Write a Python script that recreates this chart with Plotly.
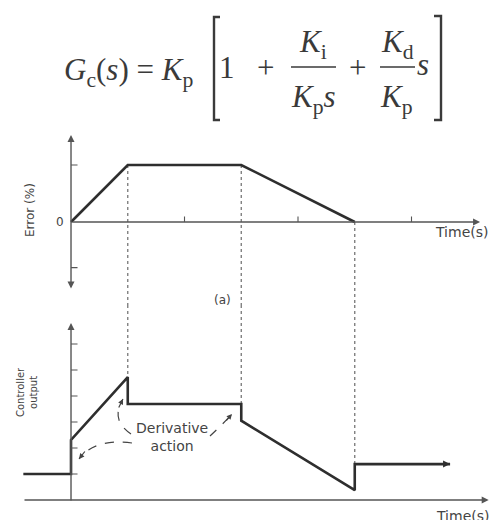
import plotly.graph_objects as go

W, H = 491, 520

# error signal, top panel (time in s, error in %)
err_time = [0, 0.5, 1.5, 2.5]
err_value = [0, 1, 1, 0]

# controller output, bottom panel
out_time = [-0.42, 0, 0, 0.5, 0.5, 1.5, 1.5, 2.5, 2.5, 3.34]
out_value = [1.0, 1.0, 2.31, 4.73, 3.69, 3.69, 3.05, 0.38, 1.38, 1.38]

# breakpoints joined by the dotted guides
guide_time = [0.5, 1.5, 2.5]

err_xticks = [1, 2, 3]
err_yticks = [1, -0.8]
out_yticks = [1, 2, 3, 4, 5, 6]

# axis ranges chosen so both panels share one time scale
XR = [-0.6256, 3.7004]
YR_ERR = [-1.456, 3.895]
YR_OUT = [-0.769, 7.5]
SPLIT = 1 - 305 / H

LINE = "#2e2e2e"
AX = "#555555"
TXT = "#444444"
MATH = "#3a3a3a"


def px(x):
    return x / W


def py(y):
    return 1 - y / H


fig = go.Figure()

# dotted guides: upper part in the error panel, lower part in the output panel
for t in guide_time:
    e = err_value[err_time.index(t)]
    o = max(v for tt, v in zip(out_time, out_value) if tt == t)
    fig.add_trace(go.Scatter(x=[t, t], y=[e, YR_ERR[0]], mode="lines", xaxis="x", yaxis="y",
                             line=dict(color="#777777", width=1.3, dash="dot"), hoverinfo="skip"))
    fig.add_trace(go.Scatter(x=[t, t], y=[YR_OUT[1], o], mode="lines", xaxis="x2", yaxis="y2",
                             line=dict(color="#777777", width=1.3, dash="dot"), hoverinfo="skip"))

fig.add_trace(go.Scatter(x=err_time, y=err_value, mode="lines", xaxis="x", yaxis="y",
                         line=dict(color=LINE, width=2.6)))
fig.add_trace(go.Scatter(x=out_time, y=out_value, mode="lines", xaxis="x2", yaxis="y2",
                         line=dict(color=LINE, width=2.6)))

ann = []


def arrow(x, y, ax, ay, xr, yr, side="end", head=2, width=1.4, size=1.0, color=AX):
    ann.append(dict(x=x, y=y, ax=ax, ay=ay, xref=xr, yref=yr, axref=xr, ayref=yr,
                    showarrow=True, arrowhead=head, arrowside=side, arrowwidth=width,
                    arrowsize=size, arrowcolor=color, text=""))


def tick(x, y, dx, dy, xr, yr):
    ann.append(dict(x=x, y=y, ax=dx, ay=dy, xref=xr, yref=yr, showarrow=True,
                    arrowhead=0, arrowwidth=1.1, arrowcolor=AX, text=""))


# error panel axes
arrow(3.604, 0, 0, 0, "x", "y")
arrow(0, 1.526, 0, -1.193, "x", "y", side="end+start")
for t in err_xticks:
    tick(t, 0, 0, -7, "x", "y")
for v in err_yticks:
    tick(0, v, 8, 0, "x", "y")

# output panel axes
arrow(3.68, 0, -0.423, 0, "x2", "y2")
arrow(0, 6.81, 0, -0.077, "x2", "y2")
for v in out_yticks:
    tick(0, v, 8, 0, "x2", "y2")
# arrow at the end of the output trace
ann.append(dict(x=out_time[-1], y=out_value[-1], xref="x2", yref="y2", ax=-12, ay=0,
                showarrow=True, arrowhead=2, arrowsize=0.7, arrowwidth=2, arrowcolor=LINE, text=""))


def label(text, x, y, size, angle=0, family="DejaVu Sans", color=TXT, xanchor="center"):
    ann.append(dict(text=text, x=px(x), y=py(y), xref="paper", yref="paper", showarrow=False,
                    textangle=angle, xanchor=xanchor, yanchor="middle",
                    font=dict(family=family, size=size, color=color)))


label("0", 60, 222, 12)
label("Error (%)", 30, 210, 12, angle=-90)
label("Time(s)", 461, 232, 14)
label("(a)", 222, 300, 12)
label("Controller<br>output", 27, 392, 10, angle=-90)
label("Derivative<br>action", 172, 437, 14)
label("Time(s)", 462, 516, 14)

# formula
SERIF = "Liberation Serif"
label("<i>G</i><sub>c</sub>(<i>s</i>) = <i>K</i><sub>p</sub>", 62, 72, 31, family=SERIF, color=MATH, xanchor="left")
label("1", 227, 68, 31, family=SERIF, color=MATH)
label("+", 265, 67, 31, family=SERIF, color=MATH)
label("<i>K</i><sub>i</sub>", 313, 44, 31, family=SERIF, color=MATH)
label("<i>K</i><sub>p</sub><i>s</i>", 313, 99, 31, family=SERIF, color=MATH)
label("+", 357, 67, 31, family=SERIF, color=MATH)
label("<i>K</i><sub>d</sub>", 397, 44, 31, family=SERIF, color=MATH)
label("<i>K</i><sub>p</sub>", 396, 99, 31, family=SERIF, color=MATH)
label("<i>s</i>", 423, 64, 31, family=SERIF, color=MATH)

shapes = [
    dict(type="line", xref="paper", yref="paper", x0=px(291), x1=px(336), y0=py(67), y1=py(67),
         line=dict(color=MATH, width=1.6)),
    dict(type="line", xref="paper", yref="paper", x0=px(380), x1=px(415), y0=py(67), y1=py(67),
         line=dict(color=MATH, width=1.6)),
    dict(type="path", xref="paper", yref="paper",
         path=f"M {px(220)},{py(17)} L {px(214)},{py(17)} L {px(214)},{py(120)} L {px(220)},{py(120)}",
         line=dict(color=MATH, width=2.4)),
    dict(type="path", xref="paper", yref="paper",
         path=f"M {px(434)},{py(16)} L {px(441)},{py(16)} L {px(441)},{py(120)} L {px(434)},{py(120)}",
         line=dict(color=MATH, width=2.4)),
]

# curved "derivative action" pointers
curves = [
    ((131, 434), (110, 420), (123, 399), (-5, 10)),
    ((132, 443), (95, 438), (79, 459), (7, -9)),
    ((210, 436), (221, 426), (232, 414), (-7, 8)),
]
for (x0, y0), (cx, cy), (x1, y1), (dx, dy) in curves:
    shapes.append(dict(type="path", xref="paper", yref="paper",
                       path=f"M {px(x0)},{py(y0)} Q {px(cx)},{py(cy)} {px(x1)},{py(y1)}",
                       line=dict(color="#444444", width=1.2, dash="dash")))
    ann.append(dict(x=px(x1), y=py(y1), xref="paper", yref="paper", ax=dx, ay=dy,
                    showarrow=True, arrowhead=2, arrowsize=0.9, arrowwidth=1.2,
                    arrowcolor="#444444", text=""))

hidden = dict(showgrid=False, zeroline=False, showticklabels=False, ticks="", showline=False)
fig.update_layout(
    width=W, height=H,
    margin=dict(l=0, r=0, t=0, b=0),
    paper_bgcolor="white", plot_bgcolor="white",
    showlegend=False,
    xaxis=dict(domain=[0, 1], range=XR, anchor="y", **hidden),
    yaxis=dict(domain=[SPLIT, 1], range=YR_ERR, anchor="x", **hidden),
    xaxis2=dict(domain=[0, 1], range=XR, anchor="y2", **hidden),
    yaxis2=dict(domain=[0, SPLIT], range=YR_OUT, anchor="x2", **hidden),
    annotations=ann,
    shapes=shapes,
)

# the page's default body margin would push the 491x520 figure off the window
fig.write_html("out.html", config={"displayModeBar": False},
               post_script="document.body.style.margin='0';")
